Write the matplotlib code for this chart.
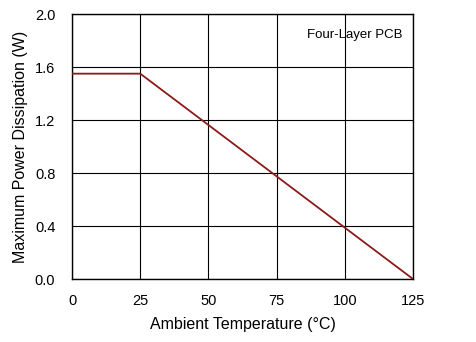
import matplotlib
matplotlib.use("Agg")
import matplotlib.pyplot as plt

plt.rcParams['font.family'] = ['Liberation Sans', 'DejaVu Sans']

# derating curve: ambient temperature vs max power dissipation
temp_c = [0, 25, 125]
power_w = [1.55, 1.55, 0.0]

xticks = [0, 25, 50, 75, 100, 125]
yticks = [0.0, 0.4, 0.8, 1.2, 1.6, 2.0]

fig = plt.figure(figsize=(4.77, 3.42), dpi=100)
ax = fig.add_axes([0.151, 0.184, 0.715, 0.775])

ax.plot(temp_c, power_w, color='#8b1a1a', lw=1.3, zorder=3)

ax.set_xlim(0, 125)
ax.set_ylim(0, 2.0)
ax.set_xticks(xticks)
ax.set_yticks(yticks)
ax.set_yticklabels([f"{v:.1f}" for v in yticks])
ax.tick_params(length=0, labelsize=10.5)
ax.tick_params(axis='x', pad=11)
ax.tick_params(axis='y', pad=12)
ax.grid(True, color='black', lw=0.8)
for s in ax.spines.values():
    s.set_linewidth(1.0)

ax.set_xlabel("Ambient Temperature (°C)", fontsize=11.5, labelpad=6)
ax.set_ylabel("Maximum Power Dissipation (W)", fontsize=11.5, labelpad=5)
ax.text(0.97, 0.92, "Four-Layer PCB", transform=ax.transAxes,
        ha='right', va='center', fontsize=9.5)

fig.savefig("out.png", dpi=100)
